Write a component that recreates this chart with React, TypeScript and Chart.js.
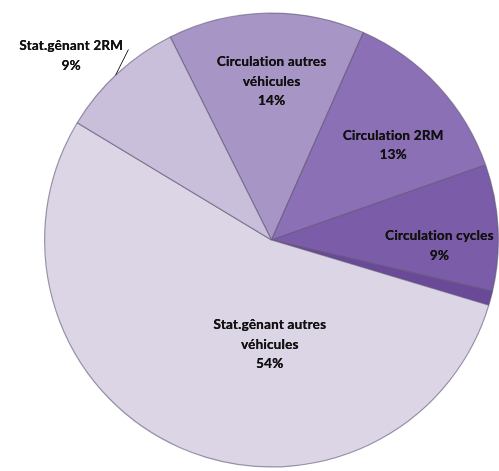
import React, { useEffect, useRef } from "react";
import { Chart, registerables } from "chart.js";

Chart.register(...registerables);

const categories = [
  "Circulation autres véhicules",
  "Circulation 2RM",
  "Circulation cycles",
  "",
  "Stat.gênant autres véhicules",
  "Stat.gênant 2RM",
];
const values = [14, 13, 9, 1, 54, 9];
const labelLines = [
  ["Circulation autres", "véhicules", "14%"],
  ["Circulation 2RM", "13%"],
  ["Circulation cycles", "9%"],
  [],
  ["Stat.gênant autres", "véhicules", "54%"],
  ["Stat.gênant 2RM", "9%"],
];
const colors = ["#a796c5", "#8b70b5", "#7b5ca8", "#6a4a98", "#dcd5e6", "#c9bfdb"];

// label placement: [angle deg clockwise from top, radius fraction]
const placement: [number, number][] = [
  [0, 0.7],
  [52, 0.68],
  [92, 0.74],
  [0, 0],
  [181, 0.46],
  [-47.4, 1.2],
];

const labelPlugin = {
  id: "sliceLabels",
  afterDatasetsDraw(chart: any) {
    const meta = chart.getDatasetMeta(0);
    const arc = meta.data[0];
    if (!arc) return;
    const { x: cx, y: cy, outerRadius: r } = arc.getProps(["x", "y", "outerRadius"], true);
    const ctx = chart.ctx;
    ctx.save();
    ctx.fillStyle = "#111";
    ctx.font = "bold 13.5px Lato, 'Open Sans', sans-serif";
    try {
      (ctx as any).letterSpacing = "0.2px";
    } catch (e) {}
    ctx.textAlign = "center";
    ctx.textBaseline = "middle";
    const lh = 19.5;
    labelLines.forEach((lines, i) => {
      if (!lines.length) return;
      const [deg, frac] = placement[i];
      const a = (deg * Math.PI) / 180;
      const x = cx + Math.sin(a) * r * frac;
      const y = cy - Math.cos(a) * r * frac;
      const y0 = y - ((lines.length - 1) * lh) / 2;
      lines.forEach((t, j) => {
        ctx.fillText(t, x, y0 + j * lh);
        ctx.fillText(t, x + 0.3, y0 + j * lh);
      });
    });
    // leader line for outside label
    const a1 = (-43.4 * Math.PI) / 180;
    const a2 = (-36.9 * Math.PI) / 180;
    ctx.strokeStyle = "#222";
    ctx.lineWidth = 1;
    ctx.beginPath();
    ctx.moveTo(cx + Math.sin(a1) * r * 1.0, cy - Math.cos(a1) * r * 1.0);
    ctx.lineTo(cx + Math.sin(a2) * r * 1.05, cy - Math.cos(a2) * r * 1.05);
    ctx.stroke();
    ctx.restore();
  },
};

export default function App() {
  const ref = useRef<HTMLCanvasElement | null>(null);
  useEffect(() => {
    document.body.style.margin = "0";
    if (!ref.current) return;
    const chart = new Chart(ref.current, {
      type: "pie",
      data: {
        labels: categories,
        datasets: [
          {
            data: values,
            backgroundColor: colors,
            borderColor: "rgba(95,85,115,0.6)",
            borderWidth: 1.2,
          },
        ],
      },
      options: {
        animation: false,
        responsive: false,
        rotation: -26.5,
        layout: { padding: { left: 44, right: 0, top: 12, bottom: 3 } },
        plugins: {
          legend: { display: false },
          tooltip: { enabled: false },
        },
      },
      plugins: [labelPlugin],
    });
    return () => chart.destroy();
  }, []);
  return (
    <div style={{ width: 499, height: 471, background: "#fff" }}>
      <canvas ref={ref} width={499} height={471} style={{ width: 499, height: 471 }} />
    </div>
  );
}
